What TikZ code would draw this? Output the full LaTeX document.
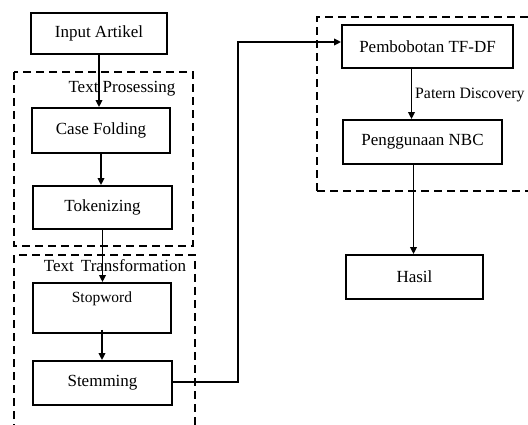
\documentclass[tikz,border=0pt]{standalone}
\usepackage{fontspec}
\setmainfont{Liberation Serif}
\usetikzlibrary{arrows.meta}
\begin{document}
\begin{tikzpicture}[x=1pt,y=-1pt,
  box/.style={draw,line width=1.8pt,minimum width=#1,inner sep=0pt,font=\fontsize{17}{19}\selectfont},
  grp/.style={draw,line width=1.8pt,dash pattern=on 8pt off 5pt},
  lbl/.style={font=\fontsize{17}{19}\selectfont,inner sep=0pt},
  conn/.style={line width=1.7pt},
  arr/.style={conn,-{Triangle[length=7pt,width=6.5pt]}}]
\useasboundingbox (0,0) rectangle (528,425);
% groups
\draw[grp] (14,72) rectangle (193,246);
\draw[grp] (14,445) -- (14,255) -- (195,255) -- (195,445);
\draw[grp] (317,191) -- (317,17) -- (560,17) (317,191) -- (560,191);
% nodes
\node[box=136pt,minimum height=41pt] (inp) at (99,33.5) {Input Artikel};
\node[box=138pt,minimum height=45pt] (case) at (101,130.5) {Case Folding};
\node[box=139pt,minimum height=43pt] (tok) at (102.5,207.5) {Tokenizing};
\node[box=138pt,minimum height=50pt] (stop) at (102,308) {};
\node[lbl,font=\fontsize{15.5}{17}\selectfont] (stoptxt) at (102,299) {Stopword};
\node[box=139pt,minimum height=44pt] (stem) at (102.5,383) {Stemming};
\node[box=171pt,minimum height=43pt] (pem) at (427.5,46.5) {Pembobotan TF-DF};
\node[box=159pt,minimum height=44pt] (nbc) at (422.5,142) {Penggunaan NBC};
\node[box=137pt,minimum height=44pt] (has) at (414.5,277) {Hasil};
\node[lbl] (tp) at (122,89) {Text Prosessing};
\node[lbl] (tt) at (115,266) {Text\, Transformation};
\node[lbl,anchor=west,font=\fontsize{15.8}{18}\selectfont] (pd) at (415,95) {Patern Discovery};
% connectors
\draw[arr] (inp.south) -- (inp.south |- case.north);
\draw[arr] (case.south) -- (case.south |- tok.north);
\draw[arr] (tok.south) -- (tok.south |- stop.north);
\draw[arr] ([yshift=4pt]stop.south) -- (stop.south |- stem.north);
\coordinate (c1) at (238,382);
\coordinate (c2) at (238,42);
\draw[arr] (stem.east |- c1) -- (c1) -- (c2) -- (c2 -| pem.west);
\draw[arr] ([xshift=-16pt]pem.south) -- ([xshift=-16pt]pem.south |- nbc.north);
\draw[arr] ([xshift=-9pt]nbc.south) -- ([xshift=-9pt]nbc.south |- has.north);
\end{tikzpicture}
\end{document}
